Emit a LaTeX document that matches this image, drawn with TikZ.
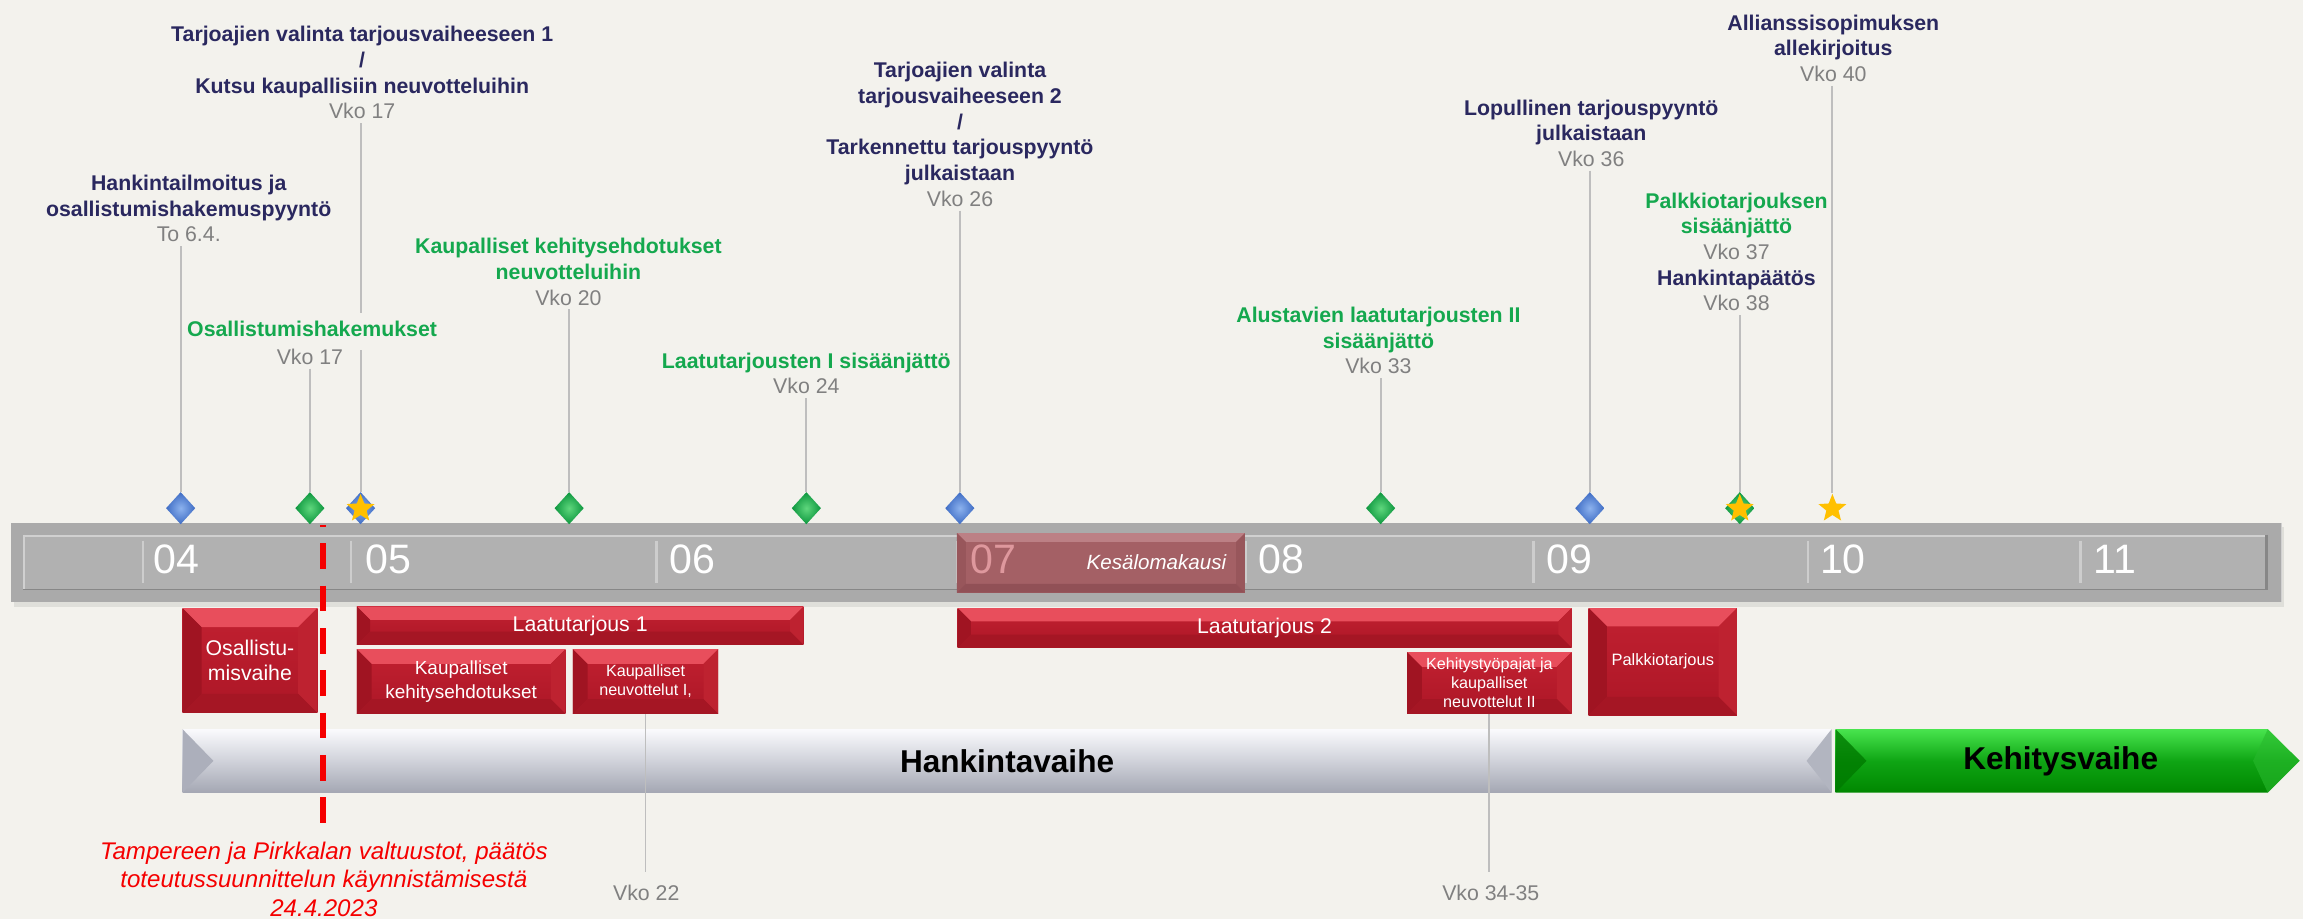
\documentclass[tikz,border=0pt]{standalone}
\usepackage{fontspec}
\setmainfont{Liberation Sans}
\usetikzlibrary{shapes.geometric,backgrounds}
\definecolor{bg}{RGB}{243,242,237}
\definecolor{navy}{RGB}{42,40,95}
\definecolor{lblgreen}{RGB}{20,168,78}
\definecolor{vkgray}{RGB}{128,128,128}
\definecolor{conngray}{RGB}{190,190,190}
\definecolor{tlouter}{RGB}{170,170,170}
\definecolor{tlinner}{RGB}{177,177,177}
\definecolor{tlhi}{RGB}{208,208,208}
\definecolor{tldark}{RGB}{135,135,135}
\definecolor{monthsepc}{RGB}{205,205,205}
\definecolor{kesface}{RGB}{164,96,101}
\definecolor{kestop}{RGB}{188,128,133}
\definecolor{kesside}{RGB}{152,86,91}
\definecolor{kesbot}{RGB}{145,80,86}
\definecolor{kesnum}{RGB}{222,152,157}
\definecolor{rfacetop}{RGB}{194,33,49}
\definecolor{rfacebot}{RGB}{172,22,38}
\definecolor{rtop}{RGB}{232,78,92}
\definecolor{rleft}{RGB}{160,20,34}
\definecolor{rright}{RGB}{190,34,48}
\definecolor{rbot}{RGB}{165,22,36}
\definecolor{dblue}{RGB}{62,108,196}
\definecolor{dblueL}{RGB}{140,178,238}
\definecolor{dgreen}{RGB}{12,150,62}
\definecolor{dgreenL}{RGB}{95,215,125}
\definecolor{gold}{RGB}{255,192,0}
\definecolor{htop}{RGB}{250,250,253}
\definecolor{hmid}{RGB}{208,210,218}
\definecolor{hbot}{RGB}{164,167,179}
\definecolor{hleft}{RGB}{172,175,187}
\definecolor{hright}{RGB}{178,181,192}
\definecolor{gtop}{RGB}{72,228,78}
\definecolor{gmid}{RGB}{15,165,20}
\definecolor{gbot}{RGB}{0,135,0}
\definecolor{gleft}{RGB}{0,122,0}
\definecolor{gright}{RGB}{40,185,45}
\definecolor{reddash}{RGB}{245,0,0}

\newcommand\navyline[1]{\textcolor{navy}{#1}\strut}
\newcommand\greenline[1]{\textcolor{lblgreen}{#1}\strut}
\newcommand\vkoline[1]{{\mdseries\textcolor{vkgray}{#1}}\strut}
\newcommand\bevelfacets[5]{%
 \fill[#2] (path picture bounding box.north west) -- (path picture bounding box.north east) -- ([xshift=-#1,yshift=-#1]path picture bounding box.north east) -- ([xshift=#1,yshift=-#1]path picture bounding box.north west) -- cycle;
 \fill[#3] (path picture bounding box.north west) -- ([xshift=#1,yshift=-#1]path picture bounding box.north west) -- ([xshift=#1,yshift=#1]path picture bounding box.south west) -- (path picture bounding box.south west) -- cycle;
 \fill[#4] (path picture bounding box.north east) -- ([xshift=-#1,yshift=-#1]path picture bounding box.north east) -- ([xshift=-#1,yshift=#1]path picture bounding box.south east) -- (path picture bounding box.south east) -- cycle;
 \fill[#5] (path picture bounding box.south west) -- ([xshift=#1,yshift=#1]path picture bounding box.south west) -- ([xshift=-#1,yshift=#1]path picture bounding box.south east) -- (path picture bounding box.south east) -- cycle;}
\tikzset{bevsz/.store in=\bevsz, bevsz=9pt}

\begin{document}
\begin{tikzpicture}[x=1pt,y=-1pt,
  lbl/.style={align=center, anchor=north, inner sep=0pt, font=\fontsize{14.5}{17.5}\selectfont\bfseries},
  vko/.style={inner sep=0pt, text=vkgray, font=\fontsize{14.5}{17.5}\selectfont},
  conn/.style={draw=conngray, line width=1.3pt},
  bluedia/.style={shape=diamond, minimum width=20pt, minimum height=22pt, inner sep=0pt, inner color=dblueL, outer color=dblue},
  greendia/.style={shape=diamond, minimum width=20pt, minimum height=22pt, inner sep=0pt, inner color=dgreenL, outer color=dgreen},
  goldstar/.style={shape=star, star points=5, star point ratio=2.3, minimum size=20pt, inner sep=0pt, fill=gold},
  month/.style={anchor=west, inner sep=0pt, text=white, font=\fontsize{28}{30}\selectfont},
  monthsep/.style={draw=monthsepc, line width=1.6pt},
  rbox/.style={inner sep=0pt, text=white, align=center, top color=rfacetop, bottom color=rfacebot,
     path picture={\bevelfacets{\bevsz}{rtop}{rleft}{rright}{rbot}}},
  kesbox/.style={inner sep=0pt, fill=kesface,
     path picture={\bevelfacets{6pt}{kestop}{kesside}{kesside}{kesbot}}},
  hbar/.style={inner sep=0pt, top color=htop, bottom color=hbot, middle color=hmid,
     font=\fontsize{21.5}{24}\selectfont\bfseries,
     path picture={
       \fill[hleft] (path picture bounding box.north west) -- ([xshift=21pt]path picture bounding box.west) -- (path picture bounding box.south west) -- cycle;
       \fill[hright] (path picture bounding box.north east) -- ([xshift=-17pt]path picture bounding box.east) -- (path picture bounding box.south east) -- cycle;}},
  phasetxt/.style={inner sep=0pt, font=\fontsize{21.5}{24}\selectfont\bfseries},
  reddashed/.style={draw=reddash, line width=4pt, dash pattern=on 17.5pt off 11.3pt, dash phase=16.3pt},
  redtxt/.style={anchor=north, align=center, inner sep=0pt, text=reddash, font=\fontsize{16.4}{19.3}\selectfont\itshape}
]
\begin{pgfonlayer}{background}
  \fill[bg] (0,0) rectangle (1568,626);
\end{pgfonlayer}
\useasboundingbox (0,0) rectangle (1568,626);

% timeline bar
\fill[black, opacity=0.08] (9.6,359) rectangle (1555,413);
\fill[tlouter] (7.6,356) rectangle (1553,410);
\fill[tlinner] (15.6,364) rectangle (1544,401.6);
\draw[tlhi, line width=1.5pt] (15.6,364.7) -- (1544,364.7);
\draw[tlhi, line width=1.2pt] (16.2,364) -- (16.2,401.6);
\draw[tldark, line width=1pt] (15.6,401.2) -- (1544,401.2);
\draw[tldark, line width=2pt] (1543,364) -- (1543,401.6);
\draw[tlhi, line width=1pt] (1553.5,356) -- (1553.5,410);
\foreach \sx in {97.5,239,447,652,848,1044,1231,1416.6} {\draw[monthsep] (\sx,368) -- (\sx,397);}

\node[month] (m04) at (104.3,381) {04};
\node[month] (m05) at (248.4,381) {05};
\node[month] (m06) at (455.6,381) {06};
\node[month] (m08) at (856.8,381) {08};
\node[month] (m09) at (1052.6,381) {09};
\node[month] (m10) at (1239,381) {10};
\node[month] (m11) at (1425,381) {11};

\node[kesbox, minimum width=196pt, minimum height=40.5pt] (kes) at (749.55,383.25) {};
\node[month, text=kesnum] (m07) at (660.8,381) {07};
\node[anchor=east, inner sep=0pt, text=white, font=\fontsize{14}{16}\selectfont\itshape] (kesl) at (835,383) {Kesälomakausi};

% milestone labels
\node[lbl] (lA) at (128.5,117.25) {\navyline{Hankintailmoitus ja}\\\navyline{osallistumishakemuspyyntö}\\\vkoline{To 6.4.}};
\node[lbl] (lB) at (246.6,15.95) {\navyline{Tarjoajien valinta tarjousvaiheeseen 1}\\\navyline{/}\\\navyline{Kutsu kaupallisiin neuvotteluihin}\\\vkoline{Vko 17}};
\node[lbl, fill=bg, inner xsep=2pt, inner ysep=4pt] (oC) at (212.5,212.75) {\greenline{Osallistumishakemukset}};
\node[lbl] (vC) at (211,235.65) {\vkoline{Vko 17}};
\node[lbl] (lD) at (387,160.25) {\greenline{Kaupalliset kehitysehdotukset}\\\greenline{neuvotteluihin}\\\vkoline{Vko 20}};
\node[lbl] (lE) at (549,238.25) {\greenline{Laatutarjousten I sisäänjättö}\\\vkoline{Vko 24}};
\node[lbl] (lF) at (653.6,40.45) {\navyline{Tarjoajien valinta}\\\navyline{tarjousvaiheeseen 2}\\\navyline{/}\\\navyline{Tarkennettu tarjouspyyntö}\\\navyline{julkaistaan}\\\vkoline{Vko 26}};
\node[lbl] (lG) at (938.5,207.05) {\greenline{Alustavien laatutarjousten II}\\\greenline{sisäänjättö}\\\vkoline{Vko 33}};
\node[lbl] (lH) at (1083.4,65.85) {\navyline{Lopullinen tarjouspyyntö}\\\navyline{julkaistaan}\\\vkoline{Vko 36}};
\node[lbl] (lI) at (1182.3,129.25) {\greenline{Palkkiotarjouksen}\\\greenline{sisäänjättö}\\\vkoline{Vko 37}\\\navyline{Hankintapäätös}\\\vkoline{Vko 38}};
\node[lbl] (lJ) at (1248.2,8.05) {\navyline{Allianssisopimuksen}\\\navyline{allekirjoitus}\\\vkoline{Vko 40}};

% milestone markers
\node[bluedia] (dA) at (123,346) {};
\node[bluedia] (dB) at (245.5,346) {};
\node[goldstar] (sB) at (245.5,346.3) {};
\node[greendia] (dC) at (211,346) {};
\node[greendia] (dD) at (387.5,346) {};
\node[greendia] (dE) at (549,346) {};
\node[bluedia] (dF) at (653.5,346) {};
\node[greendia] (dG) at (940,346) {};
\node[bluedia] (dH) at (1082.4,346) {};
\node[greendia] (dI) at (1184.5,346) {};
\node[goldstar] (sI) at (1184.5,346.3) {};
\node[goldstar] (sJ) at (1247.6,346.3) {};

\begin{pgfonlayer}{background}
  \draw[conn, shorten <=-2.5pt] (lA.south -| dA.north) -- (dA.north);
  \draw[conn, shorten <=-2.5pt] (lB.south -| dB.north) -- (dB.north);
  \draw[conn, shorten <=-2.5pt] (vC.south -| dC.north) -- (dC.north);
  \draw[conn, shorten <=-2.5pt] (lD.south -| dD.north) -- (dD.north);
  \draw[conn, shorten <=-2.5pt] (lE.south -| dE.north) -- (dE.north);
  \draw[conn, shorten <=-2.5pt] (lF.south -| dF.north) -- (dF.north);
  \draw[conn, shorten <=-2.5pt] (lG.south -| dG.north) -- (dG.north);
  \draw[conn, shorten <=-2.5pt] (lH.south -| dH.north) -- (dH.north);
  \draw[conn, shorten <=-2.5pt] (lI.south -| dI.north) -- (dI.north);
  \draw[conn, shorten <=-2.5pt] (lJ.south -| sJ.north) -- (sJ.north);
\end{pgfonlayer}

% phase boxes
\node[rbox, bevsz=13pt, minimum width=91.7pt, minimum height=71.4pt, font=\fontsize{14.5}{16.5}\selectfont] (oV) at (170.15,449.7) {Osallistu-\\misvaihe};
\node[rbox, bevsz=9pt, minimum width=304pt, minimum height=26pt, font=\fontsize{14.5}{17}\selectfont] (L1) at (395,426) {Laatutarjous 1};
\node[rbox, bevsz=10pt, minimum width=142pt, minimum height=44pt, font=\fontsize{12.9}{16}\selectfont] (kk) at (314,464) {Kaupalliset\\kehitysehdotukset};
\node[rbox, bevsz=10pt, minimum width=99pt, minimum height=44pt, font=\fontsize{11}{13}\selectfont] (kn) at (439.5,464) {Kaupalliset\\neuvottelut I,};
\node[rbox, bevsz=9pt, minimum width=418pt, minimum height=27pt, font=\fontsize{14.5}{17}\selectfont] (L2) at (861,427.5) {Laatutarjous 2};
\node[rbox, bevsz=10pt, minimum width=112pt, minimum height=42pt, font=\fontsize{11}{13}\selectfont] (kt) at (1014,465) {Kehitystyöpajat ja\\kaupalliset\\neuvottelut II};
\node[rbox, bevsz=12.5pt, minimum width=101pt, minimum height=73pt, font=\fontsize{11.2}{13}\selectfont] (pt) at (1132.1,450.5) {Palkkiotarjous};

% phase bars
\node[hbar, minimum width=1122.7pt, minimum height=43.1pt] (hv) at (685.65,518.05) {Hankintavaihe};
\shade[top color=gtop, bottom color=gbot, middle color=gmid] (1249.8,496.5) -- (1544,496.5) -- (1565.7,518) -- (1544,539.6) -- (1249.8,539.6) -- cycle;
\fill[gleft, opacity=0.8] (1249.8,496.5) -- (1270.8,518) -- (1249.8,539.6) -- cycle;
\fill[gright, opacity=0.6] (1544,496.5) -- (1565.7,518) -- (1544,539.6) -- (1534,518) -- cycle;
\node[phasetxt] (kv) at (1403,518.5) {Kehitysvaihe};

% week labels below
\node[vko] (v22) at (440,608) {Vko 22};
\node[vko] (v3435) at (1015,608) {Vko 34-35};
\draw[conn, shorten >=8.5pt] (kn.south) -- (kn.south |- v22.north);
\draw[conn, shorten >=8.5pt] (kt.south) -- (kt.south |- v3435.north);

% council decision
\coordinate (rdtop) at (220,357.5);
\coordinate (rdbot) at (220,561);
\draw[reddashed] (rdtop) -- (rdbot);
\node[redtxt] (rt) at (220.5,571.4) {Tampereen ja Pirkkalan valtuustot, päätös\strut\\toteutussuunnittelun käynnistämisestä\strut\\24.4.2023\strut};
\end{tikzpicture}
\end{document}
